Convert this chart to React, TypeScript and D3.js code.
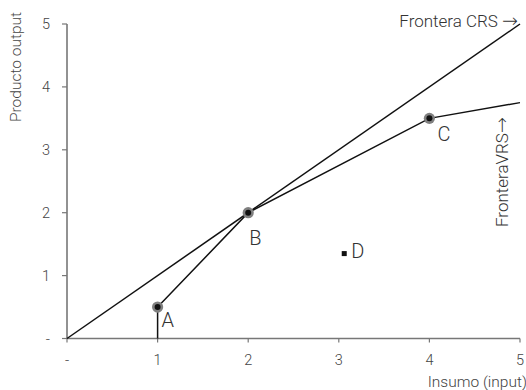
import React from "react";
import * as d3 from "d3";

const xTicks = [0, 1, 2, 3, 4, 5];
const yTicks = [0, 1, 2, 3, 4, 5];
const xTickLabels = ["-", "1", "2", "3", "4", "5"];
const yTickLabels = ["-", "1", "2", "3", "4", "5"];

const crsX = [0, 5];
const crsY = [0, 5];
const vrsX = [1, 1, 2, 4, 5];
const vrsY = [0, 0.5, 2, 3.5, 3.75];

const dmuLabels = ["A", "B", "C"];
const dmuX = [1, 2, 4];
const dmuY = [0.5, 2, 3.5];
const dX = 3.06;
const dY = 1.35;

const W = 526;
const H = 390;
const FONT = "Roboto, 'Liberation Sans', Arial, sans-serif";
const ARROW_FONT = "'DejaVu Sans', sans-serif";

export default function App() {
  const x = d3.scaleLinear().domain([0, 5]).range([67, 520]);
  const y = d3.scaleLinear().domain([0, 5]).range([338.5, 24]);
  const line = d3
    .line<[number, number]>()
    .x((d) => x(d[0]))
    .y((d) => y(d[1]));
  const crs = crsX.map((v, i) => [v, crsY[i]] as [number, number]);
  const vrs = vrsX.map((v, i) => [v, vrsY[i]] as [number, number]);

  const labelOff: [number, number][] = [
    [4, 20],
    [1, 32],
    [8, 23],
  ];

  return (
    <svg
      width={W}
      height={H}
      style={{ position: "absolute", left: 0, top: 0, background: "#fff" }}
      fontFamily={FONT}
      fontWeight={300}
    >
      <line x1={x(0)} x2={x(5)} y1={y(0)} y2={y(0)} stroke="#777" strokeWidth={1.6} />
      <line x1={x(0)} x2={x(0)} y1={y(0)} y2={y(5)} stroke="#777" strokeWidth={1.6} />
      {xTicks.map((t, i) => (
        <g key={"xt" + i}>
          <line x1={x(t)} x2={x(t)} y1={y(0)} y2={y(0) + 4} stroke="#777" strokeWidth={1.2} />
          <text x={x(t)} y={364.5} textAnchor="middle" fontSize={14.5} fill="#444">
            {xTickLabels[i]}
          </text>
        </g>
      ))}
      {yTicks.map((t, i) => (
        <g key={"yt" + i}>
          <line x1={x(0) - 5} x2={x(0)} y1={y(t)} y2={y(t)} stroke="#777" strokeWidth={1.2} />
          <text x={50} y={y(t)} dy="0.36em" textAnchor="end" fontSize={14.5} fill="#444">
            {yTickLabels[i]}
          </text>
        </g>
      ))}

      <text transform={`translate(21,67) rotate(-90)`} textAnchor="middle" fontSize={15.5} fill="#444">
        Producto output
      </text>
      <text x={527} y={387} textAnchor="end" fontSize={15.5} fill="#444">
        Insumo (input)
      </text>

      <path d={line(crs) || ""} fill="none" stroke="#111" strokeWidth={1.5} />
      <path d={line(vrs) || ""} fill="none" stroke="#111" strokeWidth={1.5} />

      <text x={518} y={27} textAnchor="end" fontSize={17} fill="#333">
        Frontera CRS <tspan fontFamily={ARROW_FONT} fontSize={19}>→</tspan>
      </text>
      <text transform={`translate(508,227) rotate(-90)`} textAnchor="start" fontSize={17} fill="#333">
        FronteraVRS<tspan fontFamily={ARROW_FONT} fontSize={19}>→</tspan>
      </text>

      {dmuLabels.map((lab, i) => (
        <g key={lab}>
          <circle cx={x(dmuX[i])} cy={y(dmuY[i])} r={5.6} fill="#808080" />
          <circle cx={x(dmuX[i])} cy={y(dmuY[i])} r={3} fill="#111" />
          <text x={x(dmuX[i]) + labelOff[i][0]} y={y(dmuY[i]) + labelOff[i][1]} fontSize={20} fill="#333">
            {lab}
          </text>
        </g>
      ))}

      <rect x={x(dX) - 2.5} y={y(dY) - 2.5} width={5} height={5} fill="#111" />
      <text x={x(dX) + 7} y={y(dY) + 4} fontSize={20} fill="#333">
        D
      </text>
    </svg>
  );
}
